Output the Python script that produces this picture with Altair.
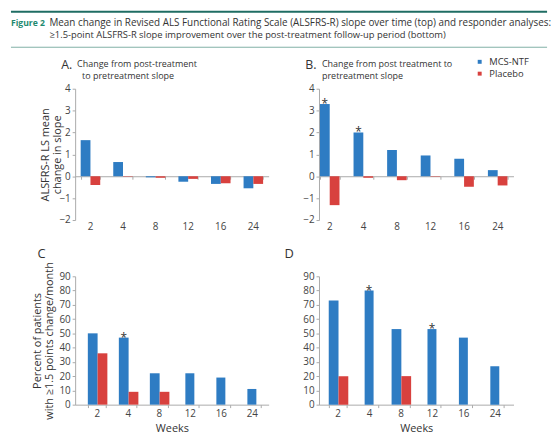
import altair as alt
import pandas as pd

BLUE = "#2e7cc3"
RED = "#d8413e"
FONT = "Open Sans"

weeks = ["2", "4", "8", "12", "16", "24"]
series = ["MCS-NTF", "Placebo"]

# A. change from post-treatment to pretreatment slope
a_ntf = [1.65, 0.65, -0.05, -0.25, -0.35, -0.55]
a_placebo = [-0.4, -0.02, -0.07, -0.12, -0.32, -0.35]
a_star = []

# B. change from post treatment to pretreatment slope
b_ntf = [3.3, 2.0, 1.2, 0.95, 0.8, 0.28]
b_placebo = [-1.32, -0.07, -0.18, -0.02, -0.48, -0.42]
b_star = ["2", "4"]

# C. percent of patients with >=1.5 points change/month
c_ntf = [50, 47, 22, 22, 19, 11]
c_placebo = [36, 9, 9, None, None, None]
c_star = ["4"]

# D.
d_ntf = [73, 80, 53, 53, 47, 27]
d_placebo = [20, None, 20, None, None, None]
d_star = ["4", "12"]

fig_label = "Figure 2"
caption = [
    "Mean change in Revised ALS Functional Rating Scale (ALSFRS-R) slope over time (top) and responder analyses:",
    "\u22651.5-point ALSFRS-R slope improvement over the post-treatment follow-up period (bottom)",
]
a_title = ["Change from post-treatment", "to pretreatment slope"]
b_title = ["Change from post treatment to", "pretreatment slope"]


def frame(ntf, placebo, stars):
    rows = []
    for w, v1, v2 in zip(weeks, ntf, placebo):
        paired = v2 is not None
        rows.append(dict(week=w, series="MCS-NTF", value=v1, paired=paired, star=w in stars))
        if paired:
            rows.append(dict(week=w, series="Placebo", value=v2, paired=True, star=False))
    return pd.DataFrame(rows)


def text_layer(label, x, y, size=10, weight="normal", color="#333"):
    return alt.Chart(pd.DataFrame({"t": [label]})).mark_text(
        align="left", baseline="alphabetic", font=FONT, fontSize=size,
        fontWeight=weight, color=color
    ).encode(text="t:N", x=alt.value(x), y=alt.value(y))


def panel(df, ydom, yvals, pad_in, pad_out, align, width, height, bottom_axis,
          ytitle=None, title_pad=0, legend=None):
    xscale = alt.Scale(domain=weeks, paddingInner=pad_in, paddingOuter=pad_out, align=align)
    if bottom_axis:
        label_axis = alt.Axis(title="Weeks", labelAngle=0, tickBand="extent", tickSize=3,
                              labelPadding=1, titlePadding=4, titleFontSize=11,
                              titleFontWeight="normal", titleColor="#333")
        x_lab = x_tick = x_none = alt.X("week:N", sort=weeks, scale=xscale, axis=label_axis)
    else:
        label_axis = alt.Axis(title=None, labelAngle=0, domain=False, ticks=False, labelPadding=2)
        # axis line drawn along the zero value, with small band ticks
        zero_off = -height * (0 - ydom[0]) / (ydom[1] - ydom[0])
        tick_axis = alt.Axis(title=None, labels=False, orient="bottom", offset=zero_off,
                             tickBand="extent", tickSize=3)
        x_lab = alt.X("week:N", sort=weeks, scale=xscale, axis=label_axis)
        x_tick = alt.X("week:N", sort=weeks, scale=xscale, axis=tick_axis)
        x_none = alt.X("week:N", sort=weeks, scale=xscale, axis=None)

    yaxis_kw = dict(values=yvals, tickSize=3, labelPadding=2, labelOverlap=False)
    if ytitle:
        yaxis_kw.update(title=ytitle, titlePadding=title_pad, titleFontSize=11,
                        titleFontWeight="normal", titleColor="#333", titleLineHeight=13)
    else:
        yaxis_kw.update(title=None)
    y = alt.Y("value:Q", stack=None, scale=alt.Scale(domain=ydom, nice=False),
              axis=alt.Axis(**yaxis_kw))
    color = alt.Color("series:N", scale=alt.Scale(domain=series, range=[BLUE, RED]),
                      legend=legend)
    xoff = alt.XOffset("series:N", scale=alt.Scale(domain=series, paddingInner=0, paddingOuter=0))

    base = alt.Chart(df)
    pair = base.transform_filter("datum.paired").mark_bar().encode(
        x=x_lab, xOffset=xoff, y=y, color=color)
    solo = base.transform_filter("!datum.paired").mark_bar(
        width=alt.RelativeBandSize(0.5)).encode(x=x_tick, y=y, color=color)
    star_kw = dict(text="*", dy=4, fontSize=12, baseline="alphabetic", color="#333", font=FONT)
    star_pair = base.transform_filter("datum.star && datum.paired").mark_text(**star_kw).encode(
        x=x_none, xOffset=xoff, y=y)
    star_solo = base.transform_filter("datum.star && !datum.paired").mark_text(**star_kw).encode(
        x=x_none, y=y)
    out = alt.layer(pair, solo, star_pair, star_solo).properties(width=width, height=height)
    if not bottom_axis:
        out = out.resolve_axis(x="independent")
    return out


# panel A with header
one = pd.DataFrame({"k": [0]})
rule_top = alt.Chart(one).mark_rule(color="#1f6d63", strokeWidth=2).encode(
    x=alt.value(-65), x2=alt.value(478), y=alt.value(-78))
rule_mid = alt.Chart(one).mark_rule(color="#7fb0a5", strokeWidth=1).encode(
    x=alt.value(-65), x2=alt.value(478), y=alt.value(-42))

A = alt.layer(
    panel(frame(a_ntf, a_placebo, a_star), [-2, 4], list(range(-2, 5)), 0.4, 0.17, 0.5, 196, 133,
          False, ytitle=["ALSFRS-R LS mean", "change in slope"], title_pad=-4),
    rule_top, rule_mid,
    text_layer(fig_label, -65, -64, size=8.7, weight="bold", color="#1f8a70"),
    text_layer(caption[0], -26, -64, size=10),
    text_layer(caption[1], -26, -51, size=9.5),
    text_layer("A.", -14, -20, size=12.5),
    text_layer(a_title[0], 2, -22, size=9.1),
    text_layer(a_title[1], 7, -9.5, size=9.1),
)

B = alt.layer(
    panel(frame(b_ntf, b_placebo, b_star), [-2, 4], list(range(-2, 5)), 0.41, 0.1, 0.14, 197, 133,
          False, legend=alt.Legend(orient="none", legendX=158, legendY=-32, title=None,
                                   symbolType="square", symbolSize=16, symbolStrokeWidth=0,
                                   labelFontSize=9.5, labelColor="#333", labelFont=FONT,
                                   rowPadding=1, labelOffset=5)),
    text_layer("B.", -14, -20, size=12.5),
    text_layer(b_title[0], 3, -22, size=9.1),
    text_layer(b_title[1], 3, -9.5, size=9.1),
)

C = alt.layer(
    panel(frame(c_ntf, c_placebo, c_star), [0, 90], list(range(0, 91, 10)), 0.42, 0.33, 0.62,
          196, 130, True, ytitle=["Percent of patients", "with \u22651.5 points change/month"],
          title_pad=4),
    text_layer("C", -38, -19, size=13),
)

D = alt.layer(
    panel(frame(d_ntf, d_placebo, d_star), [0, 90], list(range(0, 91, 10)), 0.43, 0.31, 0.5,
          197, 130, True),
    text_layer("D", -35, -19, size=13),
)

chart = alt.concat(
    A, B, C, D, columns=2, spacing={"row": 57, "column": 51}, bounds="flush", align="each"
).resolve_scale(color="independent").resolve_legend(color="independent").properties(
    padding={"left": 2, "top": 0, "right": 0, "bottom": 0},
    background="white",
).configure_view(
    stroke=None
).configure_axis(
    grid=False,
    labelFont=FONT,
    titleFont=FONT,
    labelFontSize=10,
    labelColor="#444",
    domainColor="#aaa",
    tickColor="#aaa",
)

chart.save("out.html", embed_options={"renderer": "svg", "actions": False})
